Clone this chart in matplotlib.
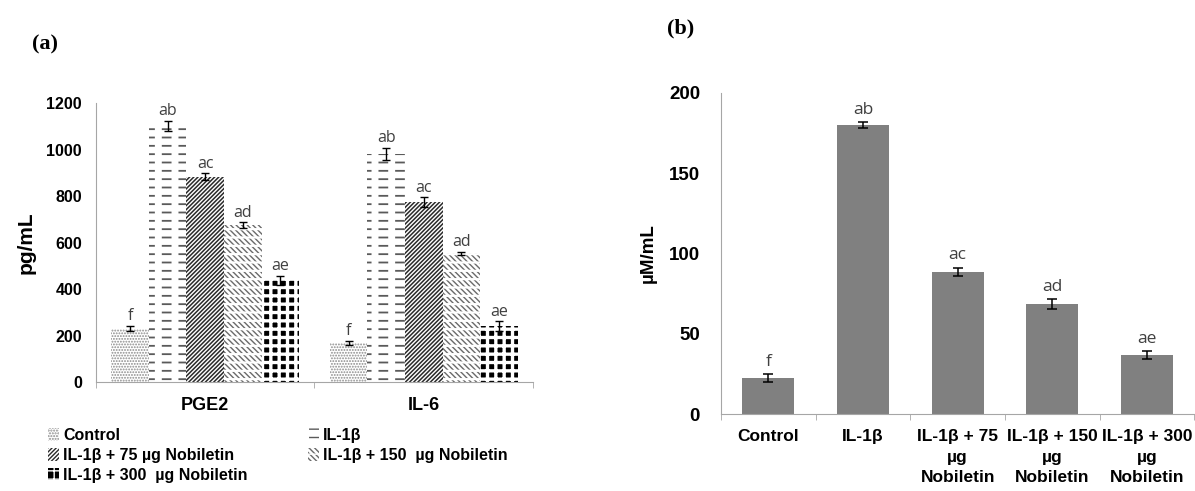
import matplotlib
matplotlib.use("Agg")
import matplotlib.pyplot as plt
import numpy as np
from matplotlib.patches import Patch

plt.rcParams['font.family'] = ['Liberation Sans', 'DejaVu Sans']

# panel (a) data
cytokines = ['PGE2', 'IL-6']
groups_a = ['Control', 'IL-1β', 'IL-1β + 75 µg Nobiletin',
            'IL-1β + 150  µg Nobiletin', 'IL-1β + 300  µg Nobiletin']
vals_a = [[230, 168],    # Control
          [1102, 982],   # IL-1b
          [884, 775],    # +75
          [676, 553],    # +150
          [437, 240]]    # +300
errs_a = [[12, 10],
          [22, 25],
          [15, 20],
          [12, 8],
          [20, 22]]
letters_a = [['f', 'f'], ['ab', 'ab'], ['ac', 'ac'], ['ad', 'ad'], ['ae', 'ae']]

# panel (b) data
labels_b = ['Control', 'IL-1β', 'IL-1β + 75\nµg\nNobiletin',
            'IL-1β + 150\nµg\nNobiletin', 'IL-1β + 300\nµg\nNobiletin']
vals_b = [22.4, 180, 88.7, 68.7, 36.5]
errs_b = [2.5, 2, 2.5, 3, 2.5]
letters_b = ['f', 'ab', 'ac', 'ad', 'ae']

fig = plt.figure(figsize=(11.95, 4.91), dpi=100)

# fill styles: (face, hatch, hatch colour, hatch width) + optional white overlay
styles = [
    dict(face='white', hatch='......', hc='#8a8a8a', hw=0.9, over=None),
    dict(face='white', hatch='--', hc='#5a5a5a', hw=1.3, over=('|', 5.0)),
    dict(face='white', hatch='////////', hc='#2a2a2a', hw=1.1, over=None),
    dict(face='white', hatch='\\\\\\\\\\\\', hc='#6a6a6a', hw=1.0, over=('--', 1.6)),
    dict(face='black', hatch='++', hc='white', hw=2.4, over=None),
]


def styled_bars(axis, pos, heights, width, st):
    base = axis.bar(pos, heights, width, color=st['face'], edgecolor=st['hc'],
                    hatch=st['hatch'], linewidth=0)
    for b in base:
        b.set_hatch_linewidth(st['hw'])
    if st['over'] is not None:
        top = axis.bar(pos, heights, width, color='none', edgecolor='white',
                       hatch=st['over'][0], linewidth=0)
        for b in top:
            b.set_hatch_linewidth(st['over'][1])


def legend_handle(st):
    p = Patch(facecolor=st['face'], edgecolor=st['hc'], hatch=st['hatch'], linewidth=0)
    p.set_hatch_linewidth(st['hw'])
    if st['over'] is None:
        return p
    q = Patch(facecolor='none', edgecolor='white', hatch=st['over'][0], linewidth=0)
    q.set_hatch_linewidth(st['over'][1])
    return (p, q)


# ---------- (a)
ax = fig.add_axes([0.0803, 0.222, 0.3657, 0.568])
w = 0.172
x = np.arange(len(cytokines))
handles = []
for i in range(5):
    pos = x + (i - 2) * w
    styled_bars(ax, pos, vals_a[i], w, styles[i])
    ax.errorbar(pos, vals_a[i], yerr=errs_a[i], fmt='none', ecolor='black',
                elinewidth=1, capsize=3, capthick=1)
    for p, v, e, t in zip(pos, vals_a[i], errs_a[i], letters_a[i]):
        ax.annotate(t, (p, v + e), xytext=(0, 4), textcoords='offset points',
                    ha='center', va='baseline', fontsize=11.5,
                    family='Open Sans', color='#404040')
    handles.append(legend_handle(styles[i]))

ax.set_xlim(-0.5, 1.5)
ax.set_ylim(0, 1200)
ax.set_yticks(np.arange(0, 1201, 200))
ax.set_xticks(x)
ax.set_xticklabels(cytokines, fontsize=13, fontweight='bold')
ax.set_xticks([-0.5, 0.5, 1.5], minor=True)
ax.tick_params(axis='x', which='major', length=0, pad=11)
ax.tick_params(axis='x', which='minor', length=4, color='#a6a6a6')
ax.tick_params(axis='y', length=0, labelsize=11.5, pad=10)
for lab in ax.get_yticklabels():
    lab.set_fontweight('bold')
for s in ['top', 'right']:
    ax.spines[s].set_visible(False)
for s in ['left', 'bottom']:
    ax.spines[s].set_color('#a6a6a6')
ax.set_ylabel('pg/mL', fontsize=15, fontweight='bold', labelpad=8)

order = [0, 2, 4, 1, 3]
fig.legend([handles[k] for k in order], [groups_a[k] for k in order],
           loc='upper left', bbox_to_anchor=(0.040, 0.128), ncol=2,
           frameon=False, handlelength=0.7, handleheight=0.8, handletextpad=0.25,
           columnspacing=3.8, labelspacing=0.3, borderaxespad=0, borderpad=0,
           prop={'weight': 'bold', 'size': 11.5})

fig.text(0.027, 0.910, '(a)', family='Liberation Serif', fontweight='bold',
         fontsize=16, va='center')

# ---------- (b)
bx = fig.add_axes([0.6033, 0.1568, 0.3962, 0.6538])
xb = np.arange(len(labels_b))
bx.bar(xb, vals_b, 0.55, color='#808080')
bx.errorbar(xb, vals_b, yerr=errs_b, fmt='none', ecolor='black',
            elinewidth=1.1, capsize=3.5, capthick=1.1)
for p, v, e, t in zip(xb, vals_b, errs_b, letters_b):
    bx.annotate(t, (p, v + e), xytext=(0, 6), textcoords='offset points',
                ha='center', va='baseline', fontsize=12.5,
                family='Open Sans', color='#404040')
bx.set_xlim(-0.5, 4.5)
bx.set_ylim(0, 200)
bx.set_yticks(np.arange(0, 201, 50))
bx.set_xticks(xb)
bx.set_xticklabels(labels_b, fontsize=12.5, fontweight='bold', va='top')
for lab in bx.get_xticklabels():
    lab.set_linespacing(1.45)
bx.set_xticks(np.arange(-0.5, 4.6, 1), minor=True)
bx.tick_params(axis='x', which='major', length=0, pad=11)
bx.tick_params(axis='x', which='minor', length=4, color='#a6a6a6')
bx.tick_params(axis='y', length=0, labelsize=13.5, pad=15)
for lab in bx.get_yticklabels():
    lab.set_fontweight('bold')
for s in ['top', 'right']:
    bx.spines[s].set_visible(False)
for s in ['left', 'bottom']:
    bx.spines[s].set_color('#a6a6a6')
bx.set_ylabel('µM/mL', fontsize=13.5, fontweight='bold', labelpad=9)

fig.text(0.558, 0.941, '(b)', family='Liberation Serif', fontweight='bold',
         fontsize=16, va='center')

fig.savefig('out.png', dpi=100, facecolor='white')
